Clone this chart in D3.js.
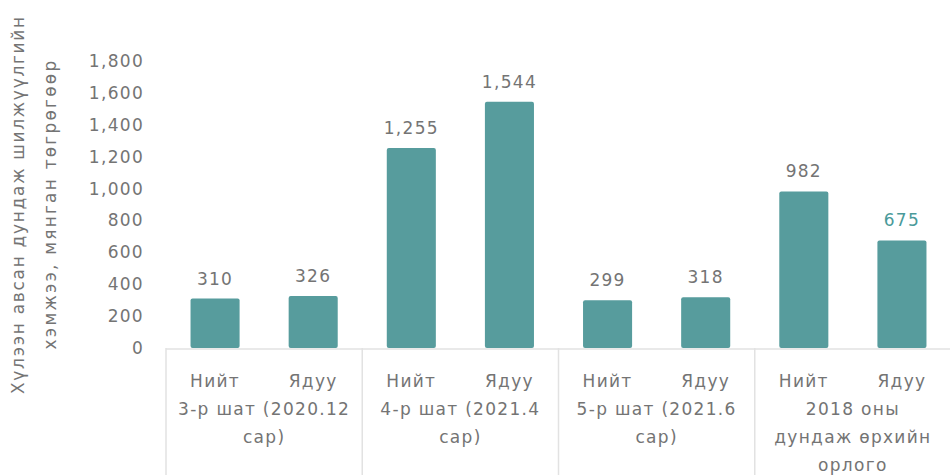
<!DOCTYPE html>
<html>
<head>
<meta charset="utf-8">
<script src="https://cdn.jsdelivr.net/npm/d3@7"></script>
<style>
  body { margin: 0; background: #fff; }
  text { font-family: "DejaVu Sans", sans-serif; }
</style>
</head>
<body>
<div id="chart"></div>
<script>
const groups = [
  ["3-р шат (2020.12", "сар)"],
  ["4-р шат (2021.4", "сар)"],
  ["5-р шат (2021.6", "сар)"],
  ["2018 оны", "дундаж өрхийн", "орлого"]
];
const subgroups = ["Нийт", "Ядуу"];
const totalValues = [310, 1255, 299, 982];
const poorValues = [326, 1544, 318, 675];
const yTicks = [0, 200, 400, 600, 800, 1000, 1200, 1400, 1600, 1800];

const width = 950;
const height = 475;
const marginLeft = 166;
const marginRight = -1;
const y0 = 348;
const yTop = 61;
const barColor = "#579c9d";
const textColor = "#747474";
const gridColor = "#e2e2e2";
const fontSize = 17;
const spacing = 1.3;

const data = groups.map((g, i) => ({
  key: i,
  label: g,
  values: [totalValues[i], poorValues[i]]
}));

const x0 = d3
  .scaleBand()
  .domain(data.map((d) => d.key))
  .range([marginLeft, width - marginRight]);

const x1 = d3
  .scaleBand()
  .domain(subgroups)
  .range([0, x0.bandwidth()])
  .paddingInner(0.5)
  .paddingOuter(0.25);

const y = d3.scaleLinear().domain([0, 1800]).range([y0, yTop]);

const svg = d3
  .create("svg")
  .attr("width", width)
  .attr("height", height)
  .attr("viewBox", [0, 0, width, height]);

// y axis labels (no line)
svg
  .append("g")
  .attr("transform", "translate(144,0)")
  .call(d3.axisLeft(y).tickValues(yTicks).tickSize(0).tickPadding(0).tickFormat(d3.format(",")))
  .call((g) => g.select(".domain").remove())
  .call((g) =>
    g.selectAll("text")
      .attr("fill", textColor)
      .attr("font-size", fontSize)
      .attr("letter-spacing", spacing)
      .attr("font-family", "'DejaVu Sans', sans-serif")
  );

// axis baseline and group separators
svg
  .append("line")
  .attr("x1", marginLeft)
  .attr("x2", width)
  .attr("y1", y0 + 1)
  .attr("y2", y0 + 1)
  .attr("stroke", gridColor)
  .attr("stroke-width", 1.5);

svg
  .append("g")
  .selectAll("line")
  .data(data)
  .join("line")
  .attr("x1", (d) => x0(d.key))
  .attr("x2", (d) => x0(d.key))
  .attr("y1", y0)
  .attr("y2", height)
  .attr("stroke", gridColor)
  .attr("stroke-width", 1.5);

const group = svg
  .append("g")
  .selectAll("g")
  .data(data)
  .join("g")
  .attr("transform", (d) => `translate(${x0(d.key)},0)`);

const bars = group
  .selectAll("g")
  .data((d) => d.values.map((v, j) => ({ sub: subgroups[j], value: v, last: d.key === 3 && j === 1 })))
  .join("g");

bars
  .append("rect")
  .attr("x", (d) => x1(d.sub))
  .attr("y", (d) => y(d.value))
  .attr("width", x1.bandwidth())
  .attr("height", (d) => y(0) - y(d.value))
  .attr("rx", 2)
  .attr("fill", barColor);

bars
  .append("text")
  .attr("x", (d) => x1(d.sub) + x1.bandwidth() / 2)
  .attr("y", (d) => y(d.value) - 14)
  .attr("text-anchor", "middle")
  .attr("font-size", fontSize)
  .attr("letter-spacing", spacing)
  .attr("fill", (d) => (d.last ? "#4a9a9a" : textColor))
  .text((d) => d3.format(",")(d.value));

bars
  .append("text")
  .attr("x", (d) => x1(d.sub) + x1.bandwidth() / 2)
  .attr("y", 387)
  .attr("text-anchor", "middle")
  .attr("font-size", fontSize)
  .attr("letter-spacing", spacing)
  .attr("fill", textColor)
  .text((d) => d.sub);

group
  .append("text")
  .attr("text-anchor", "middle")
  .attr("font-size", fontSize)
  .attr("letter-spacing", spacing)
  .attr("fill", textColor)
  .selectAll("tspan")
  .data((d) => d.label)
  .join("tspan")
  .attr("x", x0.bandwidth() / 2)
  .attr("y", (d, i) => 415 + i * 28)
  .text((d) => d);

// y axis title
svg
  .append("text")
  .attr("transform", "translate(24,394) rotate(-90)")
  .attr("text-anchor", "start")
  .attr("font-size", fontSize)
  .attr("letter-spacing", 1.7)
  .attr("fill", textColor)
  .text("Хүлээн авсан дундаж шилжүүлгийн");

svg
  .append("text")
  .attr("transform", "translate(56,204) rotate(-90)")
  .attr("text-anchor", "middle")
  .attr("font-size", fontSize)
  .attr("letter-spacing", 2.2)
  .attr("fill", textColor)
  .text("хэмжээ, мянган төгрөгөөр");

document.getElementById("chart").append(svg.node());
</script>
</body>
</html>
